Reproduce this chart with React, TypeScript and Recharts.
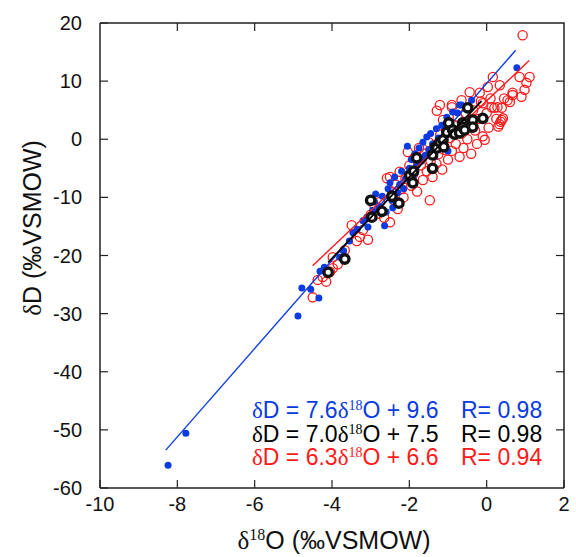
import React from "react";
import {
  ScatterChart,
  Scatter,
  XAxis,
  YAxis,
} from "recharts";

const xTicks = [-10, -8, -6, -4, -2, 0, 2];
const yTicks = [-60, -50, -40, -30, -20, -10, 0, 10, 20];

// blue filled dots
const blueX = [-8.24, -7.78, -4.88, -4.78, -4.55, -4.34, -4.31, -4.2, -3.8, -3.7, -3.55, -3.46, -3.35, -3.2, -3.1, -3.07, -2.95, -2.9, -2.87, -2.8, -2.7, -2.64, -2.6, -2.55, -2.5, -2.45, -2.43, -2.38, -2.3, -2.25, -2.2, -2.15, -2.1, -2.05, -2.0, -1.95, -1.9, -1.85, -1.8, -1.75, -1.7, -1.65, -1.6, -1.55, -1.5, -1.45, -1.4, -1.35, -1.3, -1.25, -1.16, -1.13, -1.03, -1.0, -0.88, -0.75, -0.7, -0.65, -0.39, 0.78];
const blueY = [-56.1, -50.6, -30.4, -25.6, -25.8, -27.3, -22.7, -22.0, -20.3, -19.2, -17.5, -16.1, -15.5, -14.0, -13.4, -15.1, -12.2, -10.8, -9.4, -11.5, -9.8, -14.9, -12.5, -8.5, -7.5, -10.5, -11.8, -6.5, -9.2, -7.8, -5.5, -8.5, -6.8, -1.2, -5.0, -3.5, -6.5, -2.5, -4.5, -1.5, -3.8, -0.5, -2.8, 0.4, -1.8, 1.0, -0.8, -3.0, 1.8, 0.2, 2.4, 2.4, 3.8, -2.0, 4.7, 4.5, 5.9, 5.9, 6.7, 12.3];

// red open circles
const redX = [-4.5, -4.37, -4.24, -4.15, -4.05, -3.98, -3.98, -3.85, -3.67, -3.49, -3.36, -3.28, -3.07, -3.2, -3.0, -2.9, -2.8, -2.76, -2.65, -2.58, -2.5, -2.5, -2.45, -2.4, -2.35, -2.3, -2.25, -2.2, -2.15, -2.1, -2.04, -2.0, -1.95, -1.9, -1.85, -1.8, -1.75, -1.7, -1.65, -1.6, -1.55, -1.5, -1.47, -1.45, -1.4, -1.35, -1.3, -1.29, -1.25, -1.21, -1.2, -1.15, -1.13, -1.1, -1.05, -1.0, -0.95, -0.9, -0.9, -0.9, -0.85, -0.8, -0.75, -0.7, -0.65, -0.65, -0.6, -0.55, -0.5, -0.44, -0.45, -0.4, -0.35, -0.3, -0.25, -0.2, -0.18, -0.15, -0.1, -0.1, -0.05, 0.0, 0.03, 0.05, 0.1, 0.13, 0.16, 0.2, 0.25, 0.28, 0.3, 0.33, 0.36, 0.39, 0.42, 0.34, 0.39, 0.45, 0.54, 0.6, 0.67, 0.67, 0.85, 0.9, 0.93, 0.98, 1.03, 1.11];
const redY = [-27.2, -24.2, -23.7, -24.5, -22.8, -22.2, -20.3, -21.5, -19.1, -14.8, -17.5, -16.8, -17.3, -15.6, -13.0, -11.5, -12.8, -10.8, -13.5, -6.7, -14.3, -6.5, -9.0, -10.5, -7.8, -12.0, -5.6, -8.6, -10.0, -6.8, -2.2, -4.5, -8.0, -6.0, -3.0, -9.0, -1.5, -4.5, -7.0, -2.5, -5.5, -0.5, -10.5, -3.8, -6.5, -1.0, -4.2, 4.9, -2.6, 5.9, 0.8, -5.2, 3.3, -1.8, 1.8, -3.5, 0.2, 5.5, 5.9, -2.0, 2.5, -0.8, 3.8, -3.0, 6.7, 1.0, -1.5, 4.5, 0.0, 8.1, 2.8, -2.5, 5.0, 1.5, -0.8, 3.5, 8.0, 6.5, 6.2, 0.5, -0.1, 4.5, 9.0, 2.0, 7.0, 5.5, 10.7, 5.4, 3.5, 5.5, 2.2, 2.6, 3.0, 3.3, 3.6, 9.3, 5.4, 7.0, 6.7, 6.4, 8.0, 7.6, 10.7, 7.3, 17.9, 8.5, 9.7, 10.7];

// black thick circles
const blackX = [-4.1, -3.67, -3.0, -2.97, -2.71, -2.45, -2.27, -1.99, -1.89, -1.91, -1.81, -1.4, -1.4, -1.32, -1.29, -1.21, -1.13, -1.11, -1.03, -0.98, -0.88, -0.83, -0.7, -0.62, -0.62, -0.57, -0.49, -0.36, -0.36, -0.1];
const blackY = [-22.9, -20.6, -10.5, -13.4, -12.4, -9.8, -11.0, -6.2, -5.5, -7.5, -3.2, -2.7, -5.0, -1.3, -1.5, -0.5, -0.1, -1.3, 1.2, 2.8, 1.6, 0.9, 1.1, 2.8, 2.1, 1.6, 5.4, 3.3, 2.1, 3.6];

// regression fits: slope, intercept, x range
const fitBlue = [7.6, 9.6, -8.3, 0.75];
const fitBlack = [7.0, 7.5, -4.1, -0.13];
const fitRed = [6.3, 6.6, -4.5, 1.1];

const toPoints = (xs: number[], ys: number[]) => xs.map((x, i) => ({ x, y: ys[i] }));
const fitLine = (f: number[]) => [
  { x: f[2], y: f[0] * f[2] + f[1] },
  { x: f[3], y: f[0] * f[3] + f[1] },
];

const BLUE = "#0a3be0";
const RED = "#ff1a1a";
const AXIS = "#222";
const FONT = "'Liberation Sans', Arial, sans-serif";
const SERIF = "'Liberation Serif', 'Times New Roman', serif";

// chart box (same numbers as the chart margins / axis sizes below)
const W = 576;
const H = 557;
const M = { top: 23, right: 12, bottom: 29, left: 40 };
const X_AXIS_H = 40;
const Y_AXIS_W = 60;
const plotL = M.left + Y_AXIS_W;
const plotR = W - M.right;
const plotT = M.top;
const plotB = H - M.bottom - X_AXIS_H;
const xPx = (v: number) => plotL + ((v - xTicks[0]) / (xTicks[xTicks.length - 1] - xTicks[0])) * (plotR - plotL);
const yPx = (v: number) => plotB - ((v - yTicks[0]) / (yTicks[yTicks.length - 1] - yTicks[0])) * (plotB - plotT);

const BlueDot = (p: any) => <circle cx={p.cx} cy={p.cy} r={3.5} fill={BLUE} />;
const RedRing = (p: any) => (
  <circle cx={p.cx} cy={p.cy} r={4.6} fill="none" stroke={RED} strokeWidth={1.3} />
);
const BlackRing = (p: any) => (
  <circle cx={p.cx} cy={p.cy} r={4.2} fill="#fff" stroke="#111" strokeWidth={3.4} />
);
const NoDot = () => <g />;

const eqRows = [
  { color: BLUE, slope: "7.6", icpt: "9.6", r: "0.98", y: 418 },
  { color: "#000", slope: "7.0", icpt: "7.5", r: "0.98", y: 442 },
  { color: RED, slope: "6.3", icpt: "6.6", r: "0.94", y: 465 },
];

const frame = { stroke: AXIS, strokeWidth: 1.5 };
const tickLn = { stroke: AXIS, strokeWidth: 1.2 };

// top and right edges of the box, with inward ticks (overlay svg)
function FrameOverlay() {
  return (
    <svg
      width={W}
      height={H}
      style={{ position: "absolute", left: 0, top: 0, pointerEvents: "none" }}
    >
      <path
        d={`M${plotL},${plotT} H${plotR} V${plotB}`}
        fill="none"
        stroke={AXIS}
        strokeWidth={1.5}
      />
      {xTicks.slice(1, -1).map((t) => (
        <path key={"tx" + t} d={`M${xPx(t)},${plotT} V${plotT + 8}`} stroke={AXIS} strokeWidth={1.2} />
      ))}
      {yTicks.slice(1, -1).map((t) => (
        <path key={"ty" + t} d={`M${plotR},${yPx(t)} H${plotR - 8}`} stroke={AXIS} strokeWidth={1.2} />
      ))}
    </svg>
  );
}

export default function App() {
  const tickStyle = { fontSize: 20, fill: "#111", fontFamily: FONT };
  return (
    <div style={{ position: "absolute", left: 0, top: 0, width: W, height: H, background: "#fff" }}>
      <ScatterChart width={W} height={H} margin={M}>
        <XAxis
          dataKey="x"
          type="number"
          domain={[-10, 2]}
          ticks={xTicks}
          height={X_AXIS_H}
          tickSize={-8}
          tickMargin={17}
          tick={tickStyle}
          axisLine={frame}
          tickLine={tickLn}
        />
        <YAxis
          dataKey="y"
          type="number"
          domain={[-60, 20]}
          ticks={yTicks}
          width={Y_AXIS_W}
          tickSize={-8}
          tickMargin={26}
          tick={tickStyle}
          axisLine={frame}
          tickLine={tickLn}
        />
        <Scatter data={toPoints(redX, redY)} shape={RedRing} isAnimationActive={false} />
        <Scatter data={toPoints(blueX, blueY)} shape={BlueDot} isAnimationActive={false} />
        <Scatter data={fitLine(fitRed)} line={{ stroke: RED, strokeWidth: 1.4 }} shape={NoDot} isAnimationActive={false} />
        <Scatter data={fitLine(fitBlue)} line={{ stroke: BLUE, strokeWidth: 1.4 }} shape={NoDot} isAnimationActive={false} />
        <Scatter data={toPoints(blackX, blackY)} shape={BlackRing} isAnimationActive={false} />
        <Scatter data={fitLine(fitBlack)} line={{ stroke: "#000", strokeWidth: 1.8 }} shape={NoDot} isAnimationActive={false} />
        <text x={334} y={549} textAnchor="middle" fontSize={25} fontFamily={FONT} fill="#111">
          <tspan fontFamily={SERIF}>δ</tspan>
          <tspan fontFamily={SERIF} fontSize={16} dy={-9}>18</tspan>
          <tspan dy={9}>O (‰VSMOW)</tspan>
        </text>
        <text
          x={41}
          y={228}
          transform="rotate(-90, 41, 228)"
          textAnchor="middle"
          fontSize={25}
          fontFamily={FONT}
          fill="#111"
        >
          <tspan fontFamily={SERIF}>δ</tspan>D (‰VSMOW)
        </text>
        {eqRows.map((row) => (
          <g key={row.y} fontFamily={FONT} fontSize={23} fill={row.color}>
            <text x={252} y={row.y}>
              <tspan fontFamily={SERIF}>δ</tspan>D = {row.slope}
              <tspan fontFamily={SERIF}>δ</tspan>
              <tspan fontFamily={SERIF} fontSize={14} dy={-8}>18</tspan>
              <tspan dy={8}>O + {row.icpt}</tspan>
            </text>
            <text x={461} y={row.y}>R= {row.r}</text>
          </g>
        ))}
      </ScatterChart>
      <FrameOverlay />
    </div>
  );
}
